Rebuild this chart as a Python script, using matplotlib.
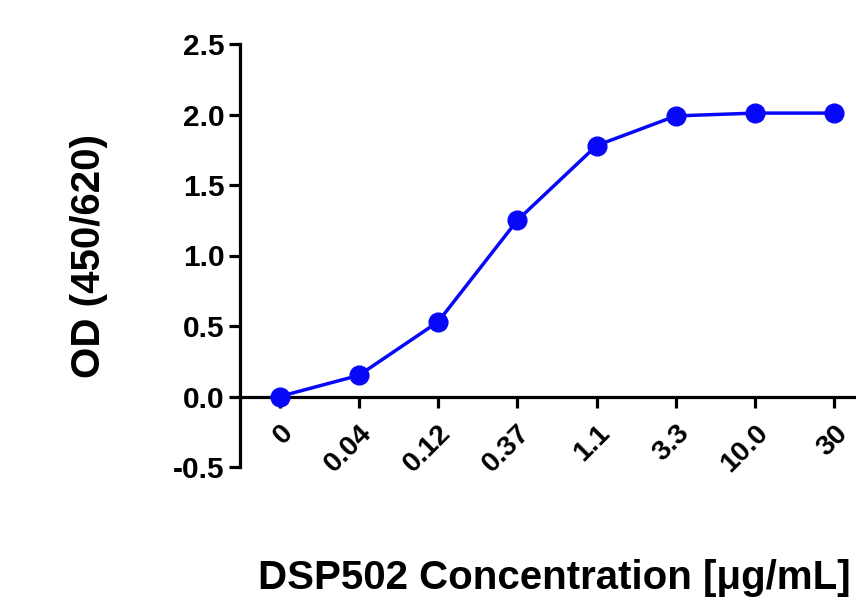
import matplotlib.pyplot as plt

# Concentration labels and measured OD values
conc_labels = ['0', '0.04', '0.12', '0.37', '1.1', '3.3', '10.0', '30']
od_values = [0.0, 0.15, 0.53, 1.25, 1.78, 1.99, 2.01, 2.01]
y_ticks = [-0.5, 0.0, 0.5, 1.0, 1.5, 2.0, 2.5]

plt.rcParams['font.family'] = ['Liberation Sans', 'DejaVu Sans']
plt.rcParams['font.weight'] = 'bold'

fig = plt.figure(figsize=(8.56, 6.05), dpi=100)
ax = fig.add_axes([240/856, (605-467)/605, 634/856, 423/605])

x = list(range(len(conc_labels)))
ax.plot(x, od_values, color='#0808F8', lw=2.5, marker='o', ms=13.5,
        clip_on=False, zorder=5)

ax.set_xlim(-0.5, 7.5)
ax.set_ylim(-0.5, 2.5)

# spines: left axis plus a horizontal axis at y = 0
ax.spines['top'].set_visible(False)
ax.spines['right'].set_visible(False)
ax.spines['bottom'].set_position(('data', 0))
for s in ['left', 'bottom']:
    ax.spines[s].set_linewidth(2.3)

ax.set_yticks(y_ticks)
ax.set_yticklabels(['%.1f' % v for v in y_ticks], fontsize=21.5, fontweight='bold')
ax.set_xticks(x)
ax.set_xticklabels(conc_labels, fontsize=20.5, fontweight='bold',
                   rotation=45, ha='right', va='top', rotation_mode='anchor')
ax.tick_params(axis='y', length=8, width=2.3, pad=3)
ax.tick_params(axis='x', length=8, width=2.3, pad=9)

ax.set_ylabel('OD (450/620)', fontsize=29, fontweight='bold')
ax.yaxis.set_label_coords(-0.208, 0.5)
ax.set_xlabel('DSP502 Concentration [\u03bcg/mL]', fontsize=29, fontweight='bold')
ax.xaxis.set_label_coords(0.495, -0.262)
ax.xaxis.label.set_va('center')

fig.savefig('out.png', dpi=100)
